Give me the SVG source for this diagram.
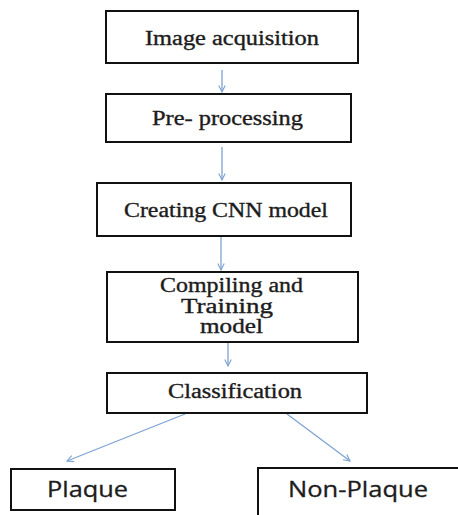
<svg xmlns="http://www.w3.org/2000/svg" width="458" height="515" viewBox="0 0 458 515">
  <style>
    .box { fill: #ffffff; stroke: #111111; stroke-width: 2; }
    .serif { font-family: "Liberation Serif", "DejaVu Serif", serif; font-size: 20px; fill: #1c1c1c; stroke: #1c1c1c; stroke-width: 0.35; }
    .sans { font-family: "Open Sans", "Liberation Sans", sans-serif; font-size: 21px; fill: #1c1c1c; stroke: #1c1c1c; stroke-width: 0.3; }
    .link { stroke: #7ea3d2; stroke-width: 1.3; fill: none; marker-end: url(#arrow); }
  </style>
  <defs>
    <marker id="arrow" viewBox="0 0 10 10" refX="9" refY="5" markerWidth="8" markerHeight="8" markerUnits="userSpaceOnUse" orient="auto">
      <path d="M1,1 L9,5 L1,9" fill="none" stroke="#7ea3d2" stroke-width="1.4"/>
    </marker>
  </defs>
  <rect width="458" height="515" fill="#ffffff"/>

  <g id="connectors">
    <line class="link" x1="222" y1="70" x2="222" y2="92"/>
    <line class="link" x1="222" y1="147" x2="222" y2="180"/>
    <line class="link" x1="221" y1="237" x2="221" y2="270"/>
    <line class="link" x1="228" y1="343" x2="228" y2="366"/>
    <line class="link" x1="185" y1="414" x2="67" y2="461"/>
    <line class="link" x1="287" y1="414" x2="350" y2="461"/>
  </g>

  <g id="image-acquisition">
    <rect class="box" x="106" y="11" width="252" height="52"/>
    <text class="serif" x="145" y="45" textLength="174" lengthAdjust="spacingAndGlyphs">Image acquisition</text>
  </g>

  <g id="pre-processing">
    <rect class="box" x="106" y="94" width="245" height="48"/>
    <text class="serif" x="152" y="125" textLength="151" lengthAdjust="spacingAndGlyphs">Pre- processing</text>
  </g>

  <g id="creating-cnn-model">
    <rect class="box" x="97" y="183" width="254" height="53"/>
    <text class="serif" x="124" y="217" textLength="204" lengthAdjust="spacingAndGlyphs">Creating CNN model</text>
  </g>

  <g id="compiling-training">
    <rect class="box" x="107" y="272" width="251" height="70"/>
    <text class="serif" x="160" y="292" textLength="143" lengthAdjust="spacingAndGlyphs">Compiling and</text>
    <text class="serif" x="181" y="313" textLength="92" lengthAdjust="spacingAndGlyphs">Training</text>
    <text class="serif" x="200" y="333" textLength="63" lengthAdjust="spacingAndGlyphs">model</text>
  </g>

  <g id="classification">
    <rect class="box" x="107" y="373" width="260" height="40"/>
    <text class="serif" x="168" y="398" textLength="134" lengthAdjust="spacingAndGlyphs">Classification</text>
  </g>

  <g id="plaque">
    <rect class="box" x="11" y="469" width="164" height="41"/>
    <text class="sans" x="47" y="497" textLength="81" lengthAdjust="spacingAndGlyphs">Plaque</text>
  </g>

  <g id="non-plaque">
    <rect class="box" x="258" y="468" width="210" height="60"/>
    <text class="sans" x="288" y="497" textLength="140" lengthAdjust="spacingAndGlyphs">Non-Plaque</text>
  </g>
</svg>
